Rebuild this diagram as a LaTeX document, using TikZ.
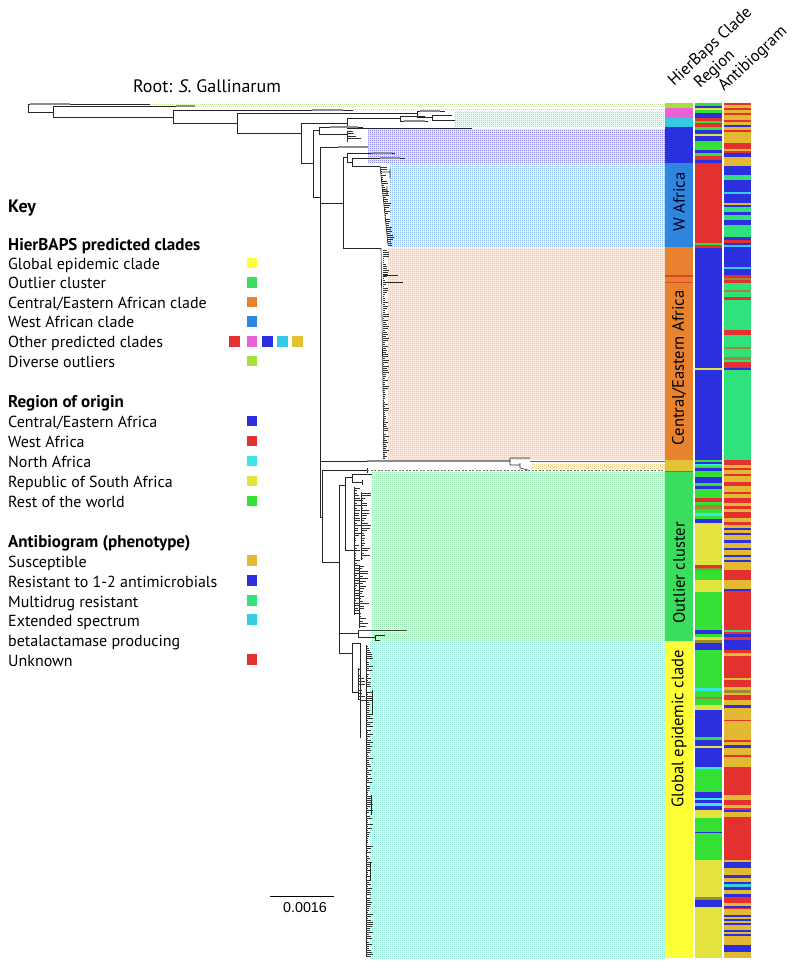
\documentclass[tikz,border=0pt]{standalone}
\usepackage{fontspec}
\setmainfont{PT Sans}
\newfontfamily\arialf{Liberation Sans}
\definecolor{HY}{HTML}{FFFF38}\definecolor{HN}{HTML}{3BDD5E}\definecolor{HO}{HTML}{E8822F}
\definecolor{HW}{HTML}{2F86DE}\definecolor{HB}{HTML}{2B30DF}\definecolor{HC}{HTML}{36C9E4}
\definecolor{HP}{HTML}{E963D6}\definecolor{HL}{HTML}{A5E03C}\definecolor{HG}{HTML}{E0C436}
\definecolor{HR}{HTML}{D9472A}
\definecolor{RB}{HTML}{2C2FDD}\definecolor{RR}{HTML}{E3312F}\definecolor{RG}{HTML}{35E035}
\definecolor{RY}{HTML}{E3E33F}\definecolor{RC}{HTML}{38E6E6}\definecolor{OL}{HTML}{9C8A32}
\definecolor{AS}{HTML}{E3B934}\definecolor{AB}{HTML}{2C2FDD}\definecolor{AM}{HTML}{31E27C}
\definecolor{AE}{HTML}{36CDE2}\definecolor{AU}{HTML}{E3312F}
\definecolor{ldlime}{HTML}{C4E68A}\definecolor{ldmint}{HTML}{9CDFC0}\definecolor{ldpurp}{HTML}{8E8CE8}
\definecolor{ldblue}{HTML}{8FBBEE}\definecolor{ldorng}{HTML}{F7C9A8}\definecolor{ldgold}{HTML}{ECD49A}
\definecolor{ldgrn}{HTML}{92E6AC}\definecolor{ldteal}{HTML}{94E4D2}
\newcommand\kf{\fontsize{16}{19}\selectfont}
\newcommand\mycomb[5]{\foreach \yy in {#2,#3,...,#4} {\pgfmathsetmacro\ll{1+rnd*#5}\draw[tip] (#1,\yy) -- ++(\ll,0);}}
\newcommand\ldrs[5]{\fill[#5!22] (#1,#2-1) rectangle (665,#4+1);
  \foreach \yy in {#2,#3,...,#4} {\draw[leader,draw=#5] (#1,\yy) -- (665,\yy);}}
\begin{document}
\begin{tikzpicture}[x=1pt,y=-1pt,
  br/.style={draw=black!85,line width=0.6pt},
  gbr/.style={draw=black!45,line width=2pt},
  tip/.style={draw=black!80,line width=0.35pt},
  leader/.style={line width=0.6pt,dash pattern=on 1pt off 1pt},
  keytxt/.style={anchor=base west,inner sep=0pt,font=\kf},
  keyhd/.style={anchor=base west,inner sep=0pt,font=\fontsize{17}{20}\selectfont\bfseries},
  sq/.style={minimum size=10.5pt,inner sep=0pt,draw=none},
  hdr/.style={anchor=base west,inner sep=0pt,rotate=43,font=\fontsize{16.5}{19}\selectfont},
  clab/.style={rotate=90,inner sep=0pt,font=\fontsize{16.6}{19}\selectfont}]
\useasboundingbox (0,0) rectangle (800,979);
\pgfmathsetseed{12}
% ---------------- leader lines
\draw[leader,draw=ldlime] (150,104) -- (665,104);
\draw[leader,draw=ldlime] (195,106) -- (665,106);
\draw[leader,draw=ldlime] (353,109) -- (665,109);
\ldrs{455}{112}{114}{126}{ldmint}
\ldrs{368}{130}{132}{162}{ldpurp}
\ldrs{390}{164}{166}{246}{ldblue}
\fill[ldorng!40] (388,248) rectangle (665,460);
\foreach \yy in {249.5,251.5,...,459.5} {\draw[leader,draw=ldorng,line width=0.5pt] (388,\yy) -- (665,\yy);}
\ldrs{532}{464}{466}{468}{ldgold}
\ldrs{372}{472}{474}{640}{ldgrn}
\ldrs{370}{642}{644}{958}{ldteal}
% ---------------- tree skeleton
\draw[br] (150,104) -- (28,104) -- (28,112) -- (53,112);
\draw[draw=black!45,line width=1.2pt] (30,104) -- (70,104);
\draw[br] (195,106) -- (53,106) -- (53,117) -- (173,117);
\draw[gbr] (176,106) -- (195,106);
\draw[br] (353,110) -- (173,110) -- (173,123) -- (237,123);
\draw[gbr] (312,110) -- (343,110);
\draw[br] (417,113) -- (237,113) -- (237,133) -- (301,133);
\draw[br] (417,111) -- (417,117) (417,111) -- (445,111) (417,117) -- (432,117)
  (432,115) -- (432,120) (432,115) -- (452,115) (432,120) -- (455,120);
\draw[gbr,line width=1.4pt] (420,111) -- (440,111);
\draw[br] (301,123) -- (301,163) -- (313,163);
\draw[br] (301,123) -- (347,123) (347,118) -- (347,128) (347,128) -- (472,128)
  (347,118) -- (400,118) (400,116) -- (400,121) (400,116) -- (425,116) (400,121) -- (428,121);
\draw[gbr,line width=1.4pt] (404,121) -- (425,121);
\draw[br] (313,130) -- (313,197) -- (320,197);
\draw[br] (313,130) -- (319,130) (319,127) -- (319,134) (319,127) -- (363,127)
  (319,134) -- (347,134) (347,131) -- (347,142);
\draw[gbr,line width=1.4pt] (330,127) -- (358,127);
\mycomb{347}{131}{133.5}{142}{14}
\draw[br] (320,147) -- (320,517);
\draw[br] (320,147) -- (338,147);
\draw[gbr] (338,147) -- (368,147);
% W Africa + Central/Eastern
\draw[br] (320,203) -- (343,203);
\draw[br] (343,157) -- (343,248) -- (381,248);
\draw[br] (343,157) -- (347,157) (347,153) -- (347,162) (347,153) -- (395,153)
  (347,162) -- (352,162) (352,158) -- (352,166) (352,158) -- (405,158) (352,166) -- (380,166);
\draw[gbr,line width=1.4pt] (372,153) -- (392,153);
\draw[gbr,line width=1.2pt] (380,158) -- (400,158);
\draw[br] (380,166) -- (388,245) (381,172) -- (390,172) (390,169) -- (390,178)
  (382,190) -- (387,190) (387,186) -- (387,196);
\foreach \yy in {167,169,...,245} {\pgfmathsetmacro\ll{1+rnd*6}\draw[tip] (380+0.1*\yy-16.6,\yy) -- ++(\ll,0);}
\draw[br] (381,248) -- (384,459);
\mycomb{383}{250}{252}{459}{5}
\draw[br] (383,275.5) -- (398,275.5) (383,282) -- (403,282);
% gold long branch
\draw[br] (320,461) -- (367,461);
\draw[gbr] (367,461) -- (510,461);
\draw[br] (510,458) -- (510,465) (510,458) -- (530,458) (510,465) -- (520,465)
  (520,463) -- (520,468) (520,468) -- (528,470);
\draw[draw=black!60,line width=0.6pt] (530,461) -- (665,461);
% outlier + global
\draw[br] (320,517) -- (322,517) (322,470) -- (322,562) (322,470) -- (367,470)
  (367,468) -- (367,473);
\draw[draw=black!55,line width=0.5pt,dash pattern=on 2pt off 1.5pt] (367,470) -- (665,470);
\draw[br] (322,562) -- (339,562) (339,485) -- (339,653);
\draw[br] (339,485) -- (345,485) (345,477) -- (345,550) (345,477) -- (352,477)
  (352,474) -- (352,482) (352,474) -- (372,474) (352,482) -- (362,482) (362,480) -- (362,485);
\draw[br] (345,550) -- (354,550) (354,487) -- (354,615)
  (354,500) -- (361,500) (361,492) -- (361,560) (354,590) -- (359,590) (359,565) -- (359,628);
\mycomb{354}{488}{490.5}{614}{6}
\mycomb{361}{493}{495.5}{560}{9}
\mycomb{359}{566}{568.5}{628}{9}
\draw[br] (339,633) -- (358,633) (358,630) -- (358,637) (358,637) -- (375,637)
  (375,635) -- (375,640) (375,635) -- (385,635) (375,640) -- (380,640);
\draw[draw=black!75,line width=0.45pt] (358,630) -- (407,630);
\draw[br] (339,653) -- (352,653) (352,643) -- (352,692) (352,643) -- (360,643)
  (360,643) -- (360,738) (352,692) -- (358,692) (358,668) -- (358,700);
\draw[br] (360,700) -- (366,700) (366,645) -- (366,957)
  (366,700) -- (372,700) (372,690) -- (372,715) (366,800) -- (371,800) (371,795) -- (371,815)
  (366,870) -- (370,870) (370,862) -- (370,880);
\mycomb{366}{646}{648}{957}{6}
\mycomb{358}{669}{672}{700}{6}
% scale bar
\draw[draw=black,line width=0.6pt] (270,896) -- (334,896);
\node[anchor=base,inner sep=0pt,font=\arialf\fontsize{14.3}{16}\selectfont] (scl) at (305,912) {0.0016};
% ---------------- strips
\foreach \a/\b/\c in {103/108/HL,108/118/HP,118/127/HC,127/163/HB,163/247/HW,247/460/HO,
  460/471/HG,471/641/HN,641/958/HY}{\fill[\c] (665,\a) rectangle (693,\b);}
\fill[HR] (665,275.3) rectangle (693,276.7);
\fill[HR] (665,281.5) rectangle (693,282.9);
\fill[black!55] (665,471) rectangle (693,472);
\foreach \a/\b/\c in {103/106/RG,106/108/RB,108/110/RY,110/113/RG,113/118/RB,118/121/RR,121/123/RG,
  123/127/RR,127/130/RG,130/134/RB,134/136/RY,136/141/RB,141/150/RG,150/153/RB,153/156/RG,
  156/160/RR,160/163/RB,163/243/RR,243/245/RG,245/248/RR,248/368/RB,368/370/RY,370/460/RB,
  460/462/RG,462/464/RB,464/466/RC,466/468/RG,468/471/RB,471/477/RG,477/483/RB,483/486/RG,
  486/489/RB,489/498/RG,498/502/RR,502/505/RG,505/509/OL,509/513/RG,513/516/RC,516/519/RG,
  519/523/RB,523/565/RY,565/568/RR,568/570/OL,570/580/RG,580/592/RY,592/630/RG,630/634/RB,
  634/637/RG,637/640/RY,640/643/OL,643/650/RB,650/688/RG,688/691/RC,691/697/RG,697/699/OL,
  699/705/RG,705/710/RY,710/737/RB,737/740/RG,740/746/RB,746/748/RY,748/767/RB,767/769/RC,
  769/792/RG,792/798/RB,798/800/RC,800/803/RB,803/806/RC,806/810/RB,810/818/RY,818/832/RG,
  832/833/RB,833/860/RG,860/897/RY,897/900/OL,900/907/RB,907/958/RY}
  {\fill[\c] (694.5,\a) rectangle (722,\b);}
\foreach \a/\b/\c in {103/105/AU,105/108/AS,108/110/AU,110/113/AS,113/115/AU,115/120/AS,
  120/122/AU,122/125/AS,125/127/AB,127/130/AS,130/132/AU,132/143/AS,143/149/AU,149/151/AS,
  151/153/AU,153/157/AB,157/166/AS,166/175/AB,175/180/AM,180/192/AB,192/194/AE,194/203/AB,
  203/205/AS,205/207/AB,207/212/AM,212/215/AB,215/220/AM,220/225/AB,225/237/AM,237/240/AB,
  240/243/AU,243/245/AB,245/247/AE,247/267/AB,267/269/AE,269/275/AB,275/278/AU,278/280/OL,
  280/283/AU,283/290/AM,290/292/OL,292/297/AM,297/300/AU,300/330/AM,330/335/AU,335/347/AM,
  347/349/OL,349/357/AM,357/360/OL,360/362/AM,362/368/AU,368/370/AB,370/460/AM,
  460/465/AU,465/468/AS,468/470/AU,470/474/AS,474/476/AU,476/482/AS,482/486/AU,486/492/AS,
  492/494/AU,494/498/AS,498/503/AU,503/506/AS,506/509/AU,509/512/AS,512/518/AU,518/522/AS,
  522/525/AU,525/528/AS,528/530/AB,530/533/AS,533/535/AB,535/540/AS,540/543/AB,543/548/AS,
  548/550/AB,550/555/AS,555/557/AB,557/560/AS,560/562/AB,562/570/AS,570/580/AU,580/589/AS,
  589/591/AB,591/630/AU,630/632/AM,632/634/AU,634/637/AB,637/640/AU,640/650/AB,650/653/AU,
  653/656/AS,656/678/AU,678/680/AS,680/687/AU,687/690/AS,690/693/OL,693/695/AS,695/700/AU,
  700/705/AS,705/708/AB,708/720/AS,720/721/AU,721/740/AS,740/742/AU,742/745/AS,745/748/AB,
  748/755/AS,755/757/AU,757/767/AS,767/795/AU,795/800/AS,800/805/AU,805/808/AS,808/810/AU,
  810/812/AB,812/817/AS,817/860/AU,860/862/AS,862/868/AB,868/875/AS,875/878/AB,878/882/AS,
  882/884/AB,884/887/AE,887/890/AB,890/894/AS,894/897/AB,897/903/AU,903/906/AS,906/908/AB,
  908/909/AU,909/915/AS,915/917/AB,917/919/AS,919/921/AB,921/923/AS,923/925/AB,925/930/AS,
  930/932/AB,932/934/AS,934/936/AB,936/945/AS,945/952/AB,952/958/AS}
  {\fill[\c] (723.5,\a) rectangle (751,\b);}
% strip labels
\node[clab,text=black!85!blue] (lw) at (679,202) {W Africa};
\node[clab] (lce) at (679,368) {Central/Eastern Africa};
\node[clab] (lo) at (679,573) {Outlier cluster};
\node[clab] (lg) at (679,729) {Global epidemic clade};
% headers
\node[hdr] (h1) at (674,87) {HierBaps Clade};
\node[hdr] (h2) at (700,89) {Region};
\node[hdr] (h3) at (724,92) {Antibiogram};
\node[anchor=base,inner sep=0pt,font=\fontsize{18}{21}\selectfont] (root) at (207,93) {Root: \textit{S.} Gallinarum};
% ---------------- key
\node[anchor=base west,inner sep=0pt,font=\fontsize{18}{21}\selectfont\bfseries] (k0) at (8,212) {Key};
\node[keyhd] (k1) at (8,250) {HierBAPS predicted clades};
\foreach \t/\yb [count=\i] in {{Global epidemic clade}/269,{Outlier cluster}/288.5,
  {Central/Eastern African clade}/308,{West African clade}/327.5,
  {Other predicted clades}/347.5,{Diverse outliers}/367}
  {\node[keytxt] (ka\i) at (8,\yb) {\t};}
\foreach \yb/\c [count=\i] in {269/HY,288.5/HN,308/HO,327.5/HW,367/HL}
  {\node[sq,fill=\c] (sa\i) at (252,\yb-6) {};}
\foreach \c/\xx [count=\i] in {RR/234.5,HP/252,HB/267.5,HC/282.5,HG/297.5}
  {\node[sq,fill=\c] (so\i) at (\xx,341.5) {};}
\node[keyhd] (k2) at (8,407) {Region of origin};
\foreach \t/\yb/\c [count=\i] in {{Central/Eastern Africa}/427/RB,{West Africa}/447/RR,
  {North Africa}/467/RC,{Republic of South Africa}/487/RY,{Rest of the world}/507/RG}{
  \node[keytxt] (kr\i) at (8,\yb) {\t};
  \node[sq,fill=\c] (sr\i) at (252,\yb-6) {};}
\node[keyhd] (k3) at (8,547) {Antibiogram (phenotype)};
\foreach \t/\yb/\c [count=\i] in {{Susceptible}/567/AS,{Resistant to 1-2 antimicrobials}/587/AB,
  {Multidrug resistant}/607/AM,{Extended spectrum}/626/AE,{Unknown}/666/AU}{
  \node[keytxt] (kb\i) at (8,\yb) {\t};
  \node[sq,fill=\c] (sb\i) at (252,\yb-6.5) {};}
\node[keytxt] (kb6) at (8,646) {betalactamase producing};
\end{tikzpicture}
\end{document}
